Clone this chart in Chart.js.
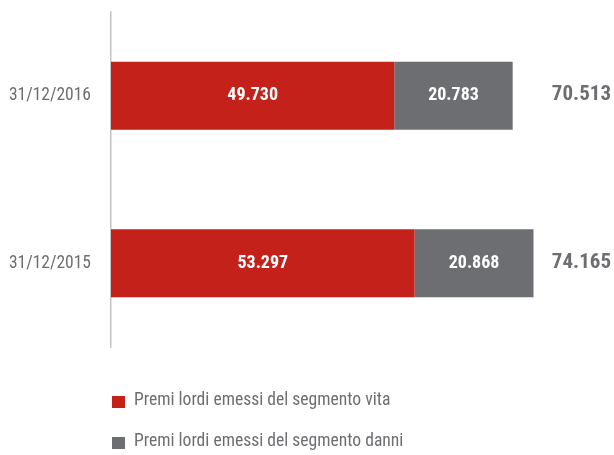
<!DOCTYPE html>
<html>
<head>
<meta charset="utf-8">
<script src="https://cdn.jsdelivr.net/npm/chart.js@4"></script>
<style>
  html, body { margin: 0; padding: 0; background: #fff; }
  #wrap { position: relative; width: 614px; height: 455px; overflow: hidden; }
  #legend { position: absolute; left: 112px; top: 389px; font-family: 'Roboto Condensed', 'Liberation Sans', sans-serif; font-size: 17.6px; color: #6d6e71; }
  #legend .item { height: 41px; display: flex; align-items: flex-start; }
  #legend .box { width: 13px; height: 12px; margin-top: 7px; margin-right: 9px; flex: none; }
</style>
</head>
<body>
<div id="wrap">
  <canvas id="chart" width="614" height="455"></canvas>
  <div id="legend"></div>
</div>
<script>
const CATEGORIES  = ['31/12/2016', '31/12/2015'];
const VITA        = [49730, 53297];
const DANNI       = [20783, 20868];
const SERIES_NAMES = ['Premi lordi emessi del segmento vita', 'Premi lordi emessi del segmento danni'];

const RED  = '#c4211a';
const GREY = '#6d6e71';
const FONT = "'Roboto Condensed', 'Liberation Sans', sans-serif";

const fmt = v => v.toLocaleString('it-IT');

// white values inside each segment + bold total to the right
const labelsPlugin = {
  id: 'labels',
  afterDatasetsDraw(chart) {
    const { ctx } = chart;
    ctx.save();
    ctx.textBaseline = 'middle';
    ctx.font = 'bold 18px ' + FONT;
    ctx.fillStyle = '#fff';
    ctx.textAlign = 'center';
    chart.data.datasets.forEach((ds, di) => {
      chart.getDatasetMeta(di).data.forEach((el, i) => {
        ctx.fillText(fmt(ds.data[i]), (el.base + el.x) / 2, el.y);
      });
    });
    ctx.font = 'bold 21px ' + FONT;
    ctx.fillStyle = GREY;
    ctx.textAlign = 'right';
    const meta = chart.getDatasetMeta(0);
    CATEGORIES.forEach((c, i) => {
      const total = VITA[i] + DANNI[i];
      ctx.fillText(fmt(total), 611, meta.data[i].y - 1);
    });
    ctx.restore();
  },
};

const chart = new Chart(document.getElementById('chart'), {
  type: 'bar',
  data: {
    labels: CATEGORIES,
    datasets: [
      { label: SERIES_NAMES[0], data: VITA,  backgroundColor: RED },
      { label: SERIES_NAMES[1], data: DANNI, backgroundColor: GREY },
    ],
  },
  options: {
    indexAxis: 'y',
    responsive: false,
    animation: false,
    events: [],
    layout: { padding: { top: 12, bottom: 108, left: 0, right: 0 } },
    datasets: { bar: { categoryPercentage: 1, barPercentage: 0.405 } },
    plugins: { legend: { display: false }, tooltip: { enabled: false } },
    scales: {
      x: { stacked: true, display: false, min: 0, max: 88300 },
      y: {
        stacked: true,
        grid: { display: false, drawTicks: false },
        border: { display: true, color: '#c4c4c4', width: 1.5 },
        ticks: { padding: 20, color: GREY, font: { family: FONT, size: 17.5 } },
        afterFit: s => { s.width = 111; s.paddingTop = 0; s.paddingBottom = 0; },
      },
    },
  },
  plugins: [labelsPlugin],
});

document.getElementById('legend').innerHTML = chart.data.datasets.map(ds =>
  `<div class="item"><span class="box" style="background:${ds.backgroundColor}"></span><span>${ds.label}</span></div>`
).join('');
</script>
</body>
</html>
